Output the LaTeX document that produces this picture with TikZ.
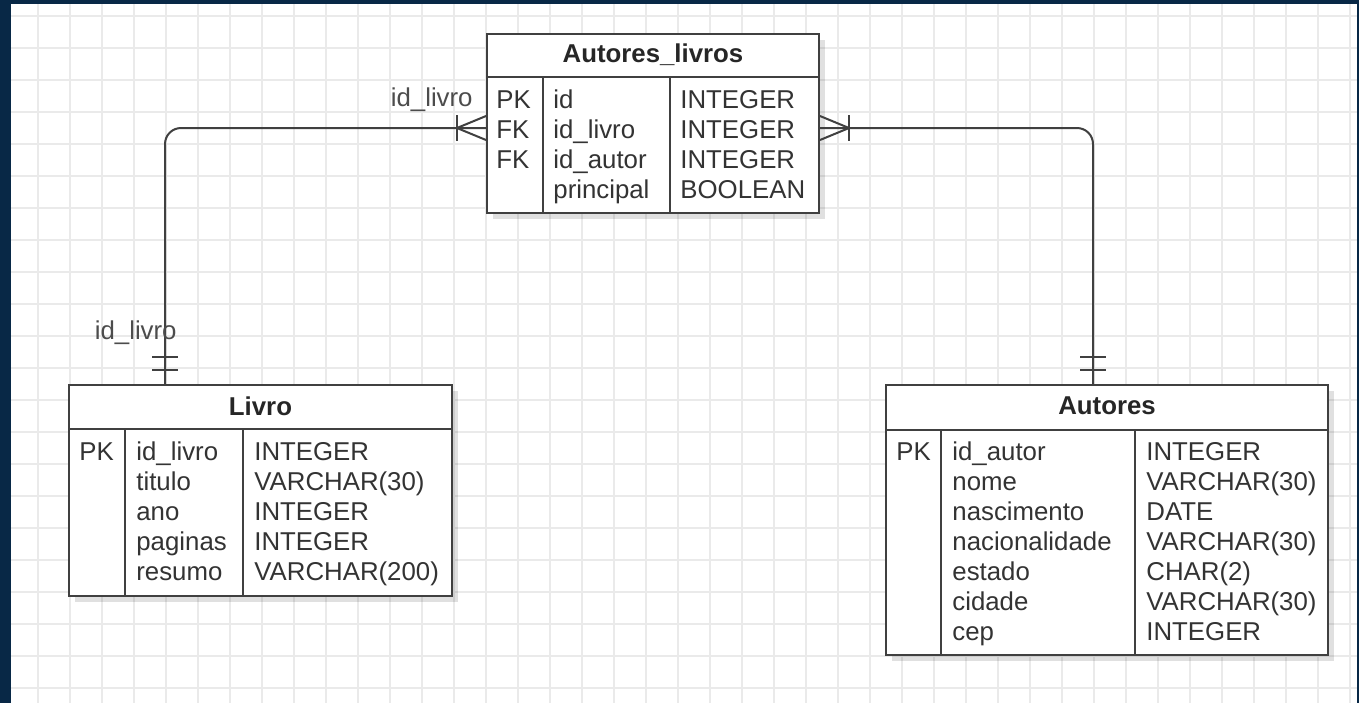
\documentclass[tikz,border=0pt]{standalone}
\usepackage{fontspec}
\setmainfont{Liberation Sans}
\usetikzlibrary{positioning, calc, shadows}

\definecolor{navy}{RGB}{8,40,70}
\definecolor{gridgray}{RGB}{234,234,234}
\definecolor{linegray}{RGB}{64,64,64}

\begin{document}
\begin{tikzpicture}[
    x=0.5pt, y=-0.5pt,
    tbl/.style={rectangle, draw=linegray, line width=1pt, fill=white, anchor=north west, inner sep=0pt,
      drop shadow={shadow xshift=3pt, shadow yshift=-3pt, opacity=0.12, fill=black}},
    ttl/.style={anchor=base, inner sep=0pt, font=\fontsize{12.9}{15}\selectfont\bfseries, text=black!85},
    col/.style={anchor=north west, align=left, inner sep=0pt, font=\fontsize{12.9}{15}\selectfont, text=black!80},
    lbl/.style={anchor=base east, inner sep=0pt, font=\fontsize{12.9}{15}\selectfont, text=black!70},
    rule/.style={draw=linegray, line width=1pt},
    gridline/.style={draw=gridgray, line width=0.6pt},
    link/.style={draw=linegray, line width=1pt, rounded corners=8pt}
  ]
  % background and grid
  \fill[navy] (0,0) rectangle (1359,703);
  \fill[white] (11,4) rectangle (1357,703);
  \foreach \gx in {38,70,...,1350} \draw[gridline] (\gx,4) -- (\gx,703);
  \foreach \gy in {16,48,...,700} \draw[gridline] (11,\gy) -- (1357,\gy);

  % tables
  \node[tbl, minimum width=166pt, minimum height=89.5pt] (autlv) at (486,33) {};
  \node[tbl, minimum width=191.5pt, minimum height=105.5pt] (livro) at (68,384) {};
  \node[tbl, minimum width=221pt, minimum height=135pt] (autores) at (885,384) {};

  % Autores_livros
  \draw[rule] ($(autlv.north west)+(0,44)$) -- ($(autlv.north east)+(0,44)$);
  \draw[rule] ($(autlv.north west)+(57,44)$) -- ($(autlv.south west)+(57,0)$);
  \draw[rule] ($(autlv.north west)+(184,44)$) -- ($(autlv.south west)+(184,0)$);
  \node[ttl] (autlv-t) at ($(autlv.north)+(0,29)$) {Autores\_livros};
  \node[col] (autlv-k) at ($(autlv.north west)+(10,54)$) {\strut PK\\FK\\FK};
  \node[col] (autlv-n) at ($(autlv.north west)+(67,54)$) {\strut id\\id\_livro\\id\_autor\\principal};
  \node[col] (autlv-y) at ($(autlv.north west)+(194,54)$) {\strut INTEGER\\INTEGER\\INTEGER\\BOOLEAN};

  % Livro
  \draw[rule] ($(livro.north west)+(0,45)$) -- ($(livro.north east)+(0,45)$);
  \draw[rule] ($(livro.north west)+(57,45)$) -- ($(livro.south west)+(57,0)$);
  \draw[rule] ($(livro.north west)+(175,45)$) -- ($(livro.south west)+(175,0)$);
  \node[ttl] (livro-t) at ($(livro.north)+(0,31)$) {Livro};
  \node[col] (livro-k) at ($(livro.north west)+(11,55)$) {\strut PK};
  \node[col] (livro-n) at ($(livro.north west)+(68,55)$) {\strut id\_livro\\titulo\\ano\\paginas\\resumo};
  \node[col] (livro-y) at ($(livro.north west)+(186,55)$) {\strut INTEGER\\VARCHAR(30)\\INTEGER\\INTEGER\\VARCHAR(200)};

  % Autores
  \draw[rule] ($(autores.north west)+(0,46)$) -- ($(autores.north east)+(0,46)$);
  \draw[rule] ($(autores.north west)+(56,46)$) -- ($(autores.south west)+(56,0)$);
  \draw[rule] ($(autores.north west)+(250,46)$) -- ($(autores.south west)+(250,0)$);
  \node[ttl] (autores-t) at ($(autores.north)+(0,30)$) {Autores};
  \node[col] (autores-k) at ($(autores.north west)+(11,55)$) {\strut PK};
  \node[col] (autores-n) at ($(autores.north west)+(67,55)$) {\strut id\_autor\\nome\\nascimento\\nacionalidade\\estado\\cidade\\cep};
  \node[col] (autores-y) at ($(autores.north west)+(261,55)$) {\strut INTEGER\\VARCHAR(30)\\DATE\\VARCHAR(30)\\CHAR(2)\\VARCHAR(30)\\INTEGER};

  % relationships
  \draw[link] ($(livro.north west)+(97,0)$) |- ($(autlv.north west)+(0,95)$);
  \draw[link] ($(autores.north west)+(208,0)$) |- ($(autlv.north east)+(0,95)$);

  % one and only one
  \draw[rule] ($(livro.north west)+(84,-27)$) -- ++(26,0);
  \draw[rule] ($(livro.north west)+(84,-14)$) -- ++(26,0);
  \draw[rule] ($(autores.north west)+(195,-27)$) -- ++(26,0);
  \draw[rule] ($(autores.north west)+(195,-14)$) -- ++(26,0);

  % one or many
  \draw[rule] ($(autlv.north west)+(0,83)$) -- ($(autlv.north west)+(-29,95)$) -- ($(autlv.north west)+(0,107)$);
  \draw[rule] ($(autlv.north west)+(-29,82)$) -- ++(0,26);
  \draw[rule] ($(autlv.north east)+(0,83)$) -- ($(autlv.north east)+(29,95)$) -- ($(autlv.north east)+(0,107)$);
  \draw[rule] ($(autlv.north east)+(29,82)$) -- ++(0,26);

  % labels
  \node[lbl] (lab-top) at ($(autlv.north west)+(-13,73)$) {id\_livro};
  \node[lbl] (lab-bot) at ($(livro.north west)+(109,-45)$) {id\_livro};
\end{tikzpicture}
\end{document}
